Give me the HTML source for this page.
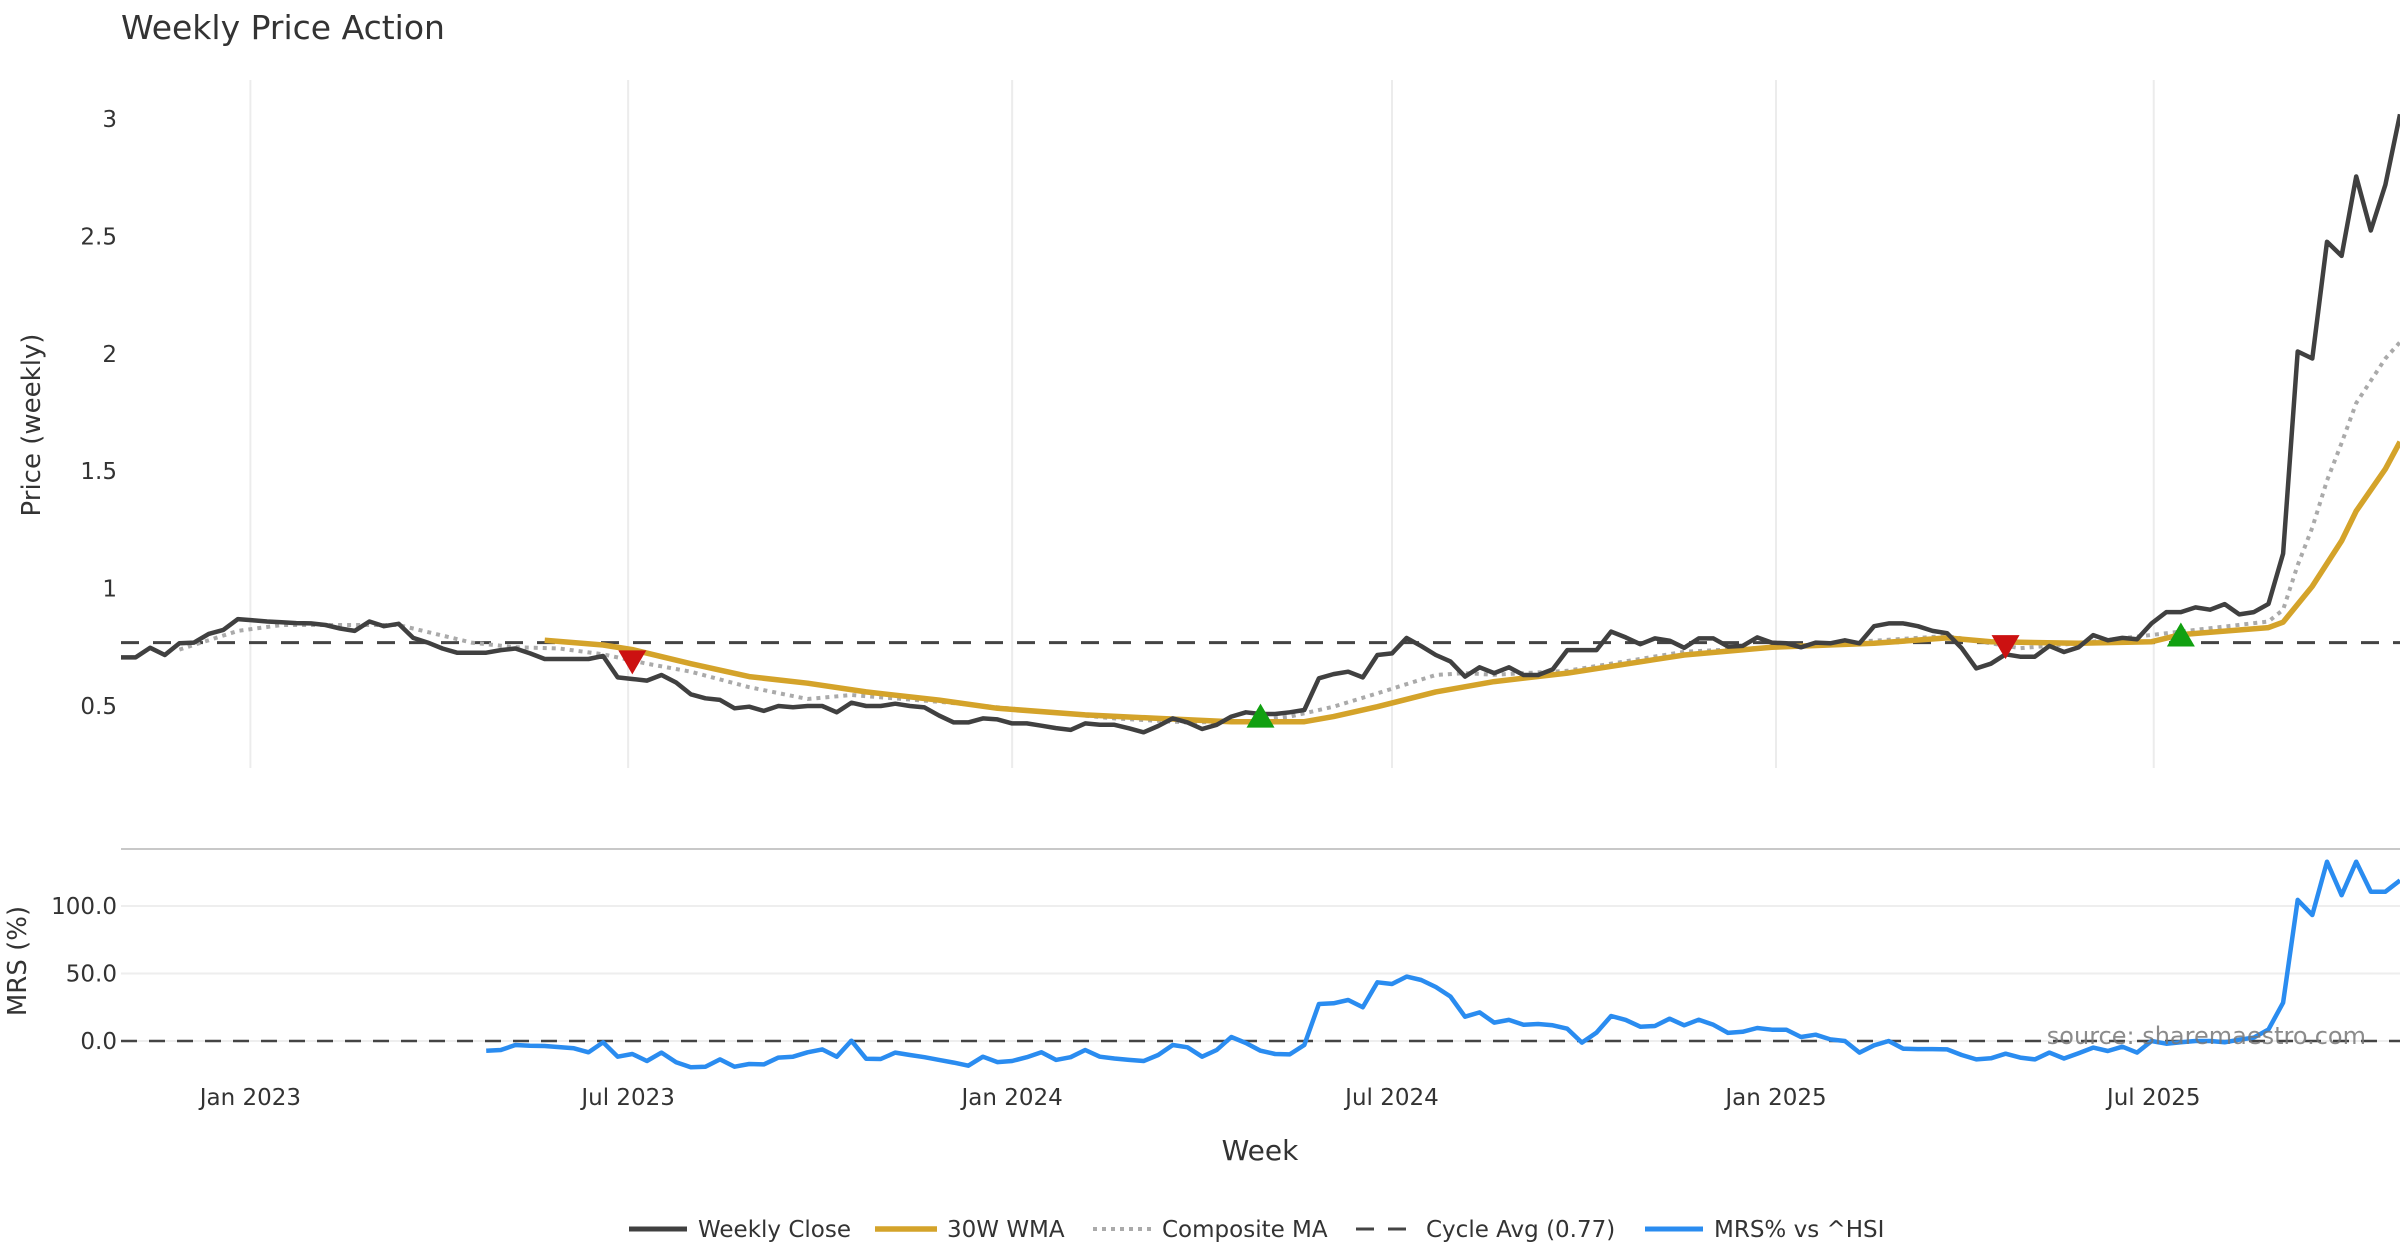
<!DOCTYPE html>
<html><head><meta charset="utf-8"><style>
html,body{margin:0;padding:0;background:#fff;}
svg{display:block;font-family:"DejaVu Sans","Liberation Sans",sans-serif;}
</style></head><body>
<svg id="chart" width="2400" height="1260" viewBox="0 0 2400 1260" xmlns="http://www.w3.org/2000/svg">
<text x="121" y="39" font-size="33" fill="#333">Weekly Price Action</text>
<g id="grid"></g><g id="series"></g><g id="axes"></g>
<text x="2366" y="1044" font-size="24" fill="#777" fill-opacity="0.85" text-anchor="end">source: sharemaestro.com</text>
<text x="1260" y="1160" font-size="28" fill="#333" text-anchor="middle">Week</text>
<text transform="translate(40,425) rotate(-90)" font-size="26" fill="#333" text-anchor="middle">Price (weekly)</text>
<text transform="translate(26,961) rotate(-90)" font-size="26" fill="#333" text-anchor="middle">MRS (%)</text>
<g font-size="23" fill="#333">
 <g><line x1="629" y1="1229" x2="687" y2="1229" stroke="#404040" stroke-width="5"/><text x="698" y="1237">Weekly Close</text></g>
 <g><line x1="875" y1="1229" x2="937" y2="1229" stroke="#d4a32a" stroke-width="5.5"/><text x="947" y="1237">30W WMA</text></g>
 <g><line x1="1093" y1="1229" x2="1151" y2="1229" stroke="#aaa" stroke-width="4" stroke-dasharray="4 5"/><text x="1162" y="1237">Composite MA</text></g>
 <g><line x1="1356" y1="1229" x2="1414" y2="1229" stroke="#444" stroke-width="3" stroke-dasharray="18 14"/><text x="1426" y="1237">Cycle Avg (0.77)</text></g>
 <g><line x1="1645" y1="1229" x2="1703" y2="1229" stroke="#2a8cf0" stroke-width="5"/><text x="1714" y="1237">MRS% vs ^HSI</text></g>
</g>
</svg>
<script>
const closeVals=[0.707,0.707,0.748,0.717,0.767,0.77,0.807,0.824,0.87,0.865,0.86,0.857,0.853,0.852,0.845,0.83,0.82,0.86,0.84,0.85,0.79,0.77,0.745,0.727,0.727,0.727,0.738,0.745,0.724,0.70,0.70,0.70,0.70,0.713,0.622,0.615,0.608,0.632,0.60,0.55,0.533,0.526,0.49,0.497,0.479,0.50,0.495,0.50,0.50,0.473,0.514,0.50,0.50,0.51,0.50,0.494,0.459,0.43,0.43,0.447,0.443,0.426,0.426,0.416,0.406,0.398,0.426,0.42,0.42,0.405,0.388,0.415,0.447,0.43,0.402,0.42,0.455,0.473,0.466,0.466,0.473,0.483,0.618,0.636,0.646,0.622,0.717,0.724,0.79,0.755,0.717,0.69,0.625,0.665,0.64,0.665,0.632,0.632,0.656,0.738,0.738,0.738,0.817,0.792,0.763,0.788,0.778,0.748,0.788,0.788,0.753,0.756,0.792,0.77,0.767,0.75,0.77,0.767,0.78,0.767,0.84,0.852,0.852,0.84,0.82,0.81,0.746,0.66,0.68,0.72,0.71,0.71,0.756,0.73,0.75,0.802,0.78,0.79,0.784,0.852,0.90,0.90,0.92,0.91,0.934,0.89,0.90,0.935,1.149,2.01,1.98,2.477,2.417,2.755,2.525,2.72,3.02];
const wmaWeeks=[29,33,35,39,43,47,51,56,60,66,71,76,81,83,86,90,94,99,107,113,120,125,128,134,139,141,147,148,150,152,153,155,156];
const wmaVals=[0.78,0.76,0.74,0.68,0.625,0.597,0.56,0.525,0.49,0.462,0.447,0.433,0.433,0.455,0.497,0.56,0.604,0.64,0.717,0.75,0.767,0.79,0.774,0.767,0.774,0.804,0.834,0.857,1.01,1.203,1.33,1.51,1.625];
const compWeeks=[4,8,11,19,24,27,30,33,36,39,43,47,50,56,62,68,73,77,80,83,86,90,92,94,99,107,113,125,130,134,142,147,148,149,150,151,152,153,155,156];
const compVals=[0.74,0.82,0.845,0.845,0.77,0.75,0.745,0.72,0.68,0.646,0.58,0.53,0.547,0.518,0.483,0.447,0.43,0.433,0.455,0.497,0.554,0.632,0.64,0.633,0.65,0.731,0.75,0.798,0.746,0.767,0.824,0.86,0.91,1.1,1.26,1.46,1.62,1.79,1.98,2.05];
const mrsStart=25;
const mrsVals=[-7.2,-6.7,-3,-3.5,-3.7,-4.5,-5.4,-8.4,-1,-11.6,-9.6,-14.8,-8.6,-15.8,-19.5,-19,-13.6,-19,-17,-17.3,-12.3,-11.6,-8.4,-6.2,-11.6,0.2,-13.1,-13.3,-8.6,-10.4,-12,-14,-16,-18.3,-11.6,-15.6,-14.8,-12,-8.4,-14,-12,-6.7,-11.6,-13,-14,-14.8,-10.4,-3,-4.7,-11.6,-6.7,3,-1.5,-7.2,-9.6,-9.9,-3,27.4,27.9,30.4,25,43.5,42.2,47.7,45.2,40,33,18,21.2,13.6,15.6,12,12.6,11.6,9.1,-1.2,6.2,18.5,15.6,10.6,11.1,16.5,11.6,15.8,12,6,6.8,9.6,8.4,8.4,3,4.7,1.2,0,-8.6,-3.2,0,-5.7,-6,-6,-6.2,-10.4,-13.6,-12.8,-9.4,-12.3,-13.6,-8.6,-13,-9,-4.9,-7.4,-4.2,-8.6,0,-2,-1,0,0,-1,1,2.5,8.6,28.4,104.5,93.3,132.8,108,132.8,110.6,110.6,119];
const sellWeeks=[35,129]; const sellVals=[0.69,0.755];
const buyWeeks=[78,141]; const buyVals=[0.455,0.80];
const cycleAvg=0.77;
const priceTicks=[0.5,1,1.5,2,2.5,3];
const priceTickLabels=["0.5","1","1.5","2","2.5","3"];
const mrsTicks=[0,50,100];
const mrsTickLabels=["0.0","50.0","100.0"];
const dateTickWeeks=[8.857,34.714,61,87,113.286,139.143];
const dateTickLabels=["Jan 2023","Jul 2023","Jan 2024","Jul 2024","Jan 2025","Jul 2025"];

const NS="http://www.w3.org/2000/svg";
const X=i=>121+i*(2279/156);
const YP=v=>706-(v-0.5)*234.8;
const YM=v=>1041-v*1.35;
function mk(tag,attrs,parent){const e=document.createElementNS(NS,tag);for(const k in attrs)e.setAttribute(k,attrs[k]);parent.appendChild(e);return e;}
const grid=document.getElementById('grid'),ser=document.getElementById('series'),ax=document.getElementById('axes');

dateTickWeeks.forEach((w,k)=>{
  const g=mk('line',{x1:X(w),x2:X(w),y1:80,y2:768,stroke:'#ececec','stroke-width':2},grid);
  
  
  const t=mk('text',{x:X(w),y:1105,'font-size':23,fill:'#333','text-anchor':'middle'},ax);
  t.textContent=dateTickLabels[k];
  
  
});
priceTicks.forEach((v,k)=>{
  const t=mk('text',{x:117,y:YP(v)+8,'font-size':23,fill:'#333','text-anchor':'end'},ax);
  t.textContent=priceTickLabels[k];
  
  
});
mrsTicks.forEach((v,k)=>{
  const g=mk('line',{x1:121,x2:2400,y1:YM(v),y2:YM(v),stroke:'#eeeeee','stroke-width':2},grid);
  
  
  const t=mk('text',{x:117,y:YM(v)+8,'font-size':23,fill:'#333','text-anchor':'end'},ax);
  t.textContent=mrsTickLabels[k];
  
  
});
const dv=mk('line',{x1:121,x2:2400,y1:849,y2:849,stroke:'#c8c8c8','stroke-width':2},grid);



function path(ws,vs,yf){return ws.map((w,k)=>(k?'L':'M')+X(w).toFixed(1)+' '+yf(vs[k]).toFixed(1)).join(' ');}
const ca=mk('line',{x1:121,x2:2400,y1:YP(cycleAvg),y2:YP(cycleAvg),stroke:'#444','stroke-width':3,'stroke-dasharray':'18 14'},ser);


const mz=mk('line',{x1:121,x2:2400,y1:YM(0),y2:YM(0),stroke:'#444','stroke-width':2.5,'stroke-dasharray':'16 12'},ser);



const cw=mk('path',{d:path(compWeeks,compVals,YP),fill:'none',stroke:'#aaa','stroke-width':4,'stroke-dasharray':'4 5'},ser);


const ww=mk('path',{d:path(wmaWeeks,wmaVals,YP),fill:'none',stroke:'#d4a32a','stroke-width':5.5,'stroke-linejoin':'round'},ser);


const cl=mk('path',{d:path(closeVals.map((v,i)=>i),closeVals,YP),fill:'none',stroke:'#404040','stroke-width':4.5,'stroke-linejoin':'round'},ser);


const ml=mk('path',{d:path(mrsVals.map((v,i)=>i+mrsStart),mrsVals,YM),fill:'none',stroke:'#2a8cf0','stroke-width':4.5,'stroke-linejoin':'round'},ser);



sellWeeks.forEach((w,k)=>{
  const x=X(w),y=YP(sellVals[k]);
  const p=mk('polygon',{points:`${x-14},${y-11} ${x+14},${y-11} ${x},${y+13}`,fill:'#cc1111'},ser);
  
  
});
buyWeeks.forEach((w,k)=>{
  const x=X(w),y=YP(buyVals[k]);
  const p=mk('polygon',{points:`${x-14},${y+11} ${x+14},${y+11} ${x},${y-13}`,fill:'#11a011'},ser);
  
  
});
</script>
</body></html>
